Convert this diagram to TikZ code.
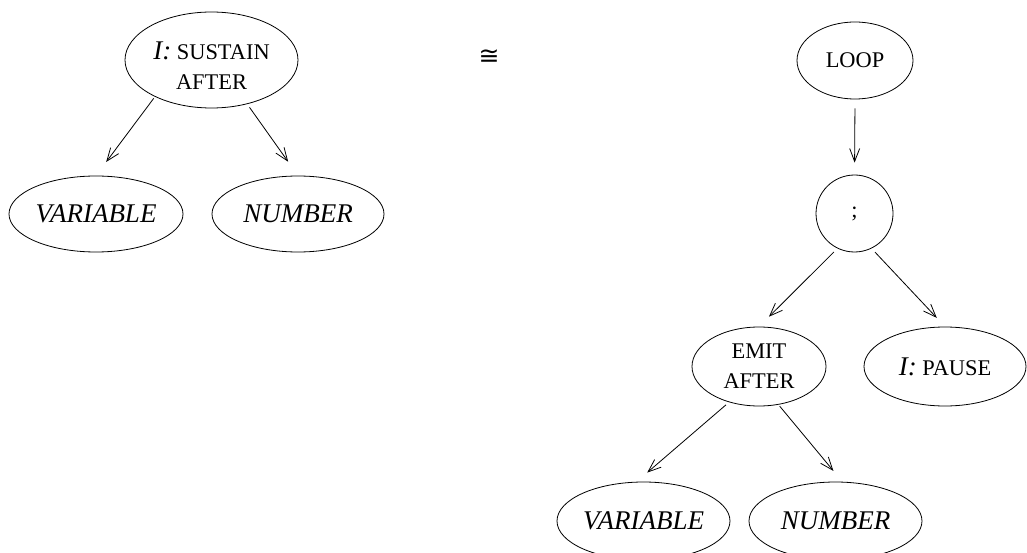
\documentclass[tikz,border=0pt]{standalone}
\usepackage{fontspec}
\setmainfont{Liberation Serif}
\newfontfamily\symfont{DejaVu Sans}
\usetikzlibrary{shapes.geometric,arrows.meta}
\tikzset{
  tree/.style={draw, ellipse, inner sep=0pt, line width=0.8pt,
    font=\fontsize{22.4}{30}\selectfont, align=center},
  arr/.style={line width=0.8pt,
    -{Straight Barb[length=13pt,width=10pt,line width=0.8pt]}},
}
\newcommand\labI{{\fontsize{27}{30}\selectfont\itshape I:}}
\newcommand\nonterm[1]{{\fontsize{27}{30}\selectfont\itshape #1}}
\begin{document}
\begin{tikzpicture}[x=1pt,y=-1pt]
  \useasboundingbox (0,0) rectangle (1027,553);
  \clip (0,0) rectangle (1027,553);

  % left tree
  \node[tree, minimum width=173, minimum height=96,
        label={[font=\fontsize{22.4}{30}\selectfont, align=center, yshift=-6pt]center:{\labI~SUSTAIN\\AFTER}}]
        (sustain) at (211.5,60) {};
  \node[tree, minimum width=174, minimum height=76] (var1) at (96,214) {\nonterm{VARIABLE}};
  \node[tree, minimum width=172, minimum height=76] (num1) at (298,214) {\nonterm{NUMBER}};

  % equivalence sign
  \node (cong) at (489,57) {\symfont\fontsize{25}{25}\selectfont ≅};

  % right tree
  \node[tree, minimum width=116, minimum height=77] (loop) at (855,60.5) {LOOP};
  \node[tree, circle, minimum size=77] (seq) at (854.5,213.5) {;};
  \node[tree, minimum width=134, minimum height=79] (emit) at (759,366.5) {EMIT\\AFTER};
  \node[tree, minimum width=162, minimum height=79] (pause) at (945,366.5) {\labI~PAUSE};
  \node[tree, minimum width=173, minimum height=78] (var2) at (643.5,521) {\nonterm{VARIABLE}};
  \node[tree, minimum width=173, minimum height=78] (num2) at (835.5,521) {\nonterm{NUMBER}};

  % edges
  \draw[arr, shorten <=2pt, shorten >=17pt] (sustain.213.5) -- (var1.north);
  \draw[arr, shorten <=4pt, shorten >=17pt] (sustain.309) -- (num1.north);
  \draw[arr, shorten <=9pt, shorten >=12pt] (loop.south) -- (seq.north);
  \draw[arr, shorten <=5pt, shorten >=14pt] (seq.244) -- (emit.north);
  \draw[arr, shorten <=5pt, shorten >=12pt] (seq.296) -- (pause.north);
  \draw[arr, shorten <=4pt, shorten >=14pt] (emit.230) -- (var2.100);
  \draw[arr, shorten <=2pt, shorten >=14pt] (emit.297) -- (num2.80);
\end{tikzpicture}
\end{document}
